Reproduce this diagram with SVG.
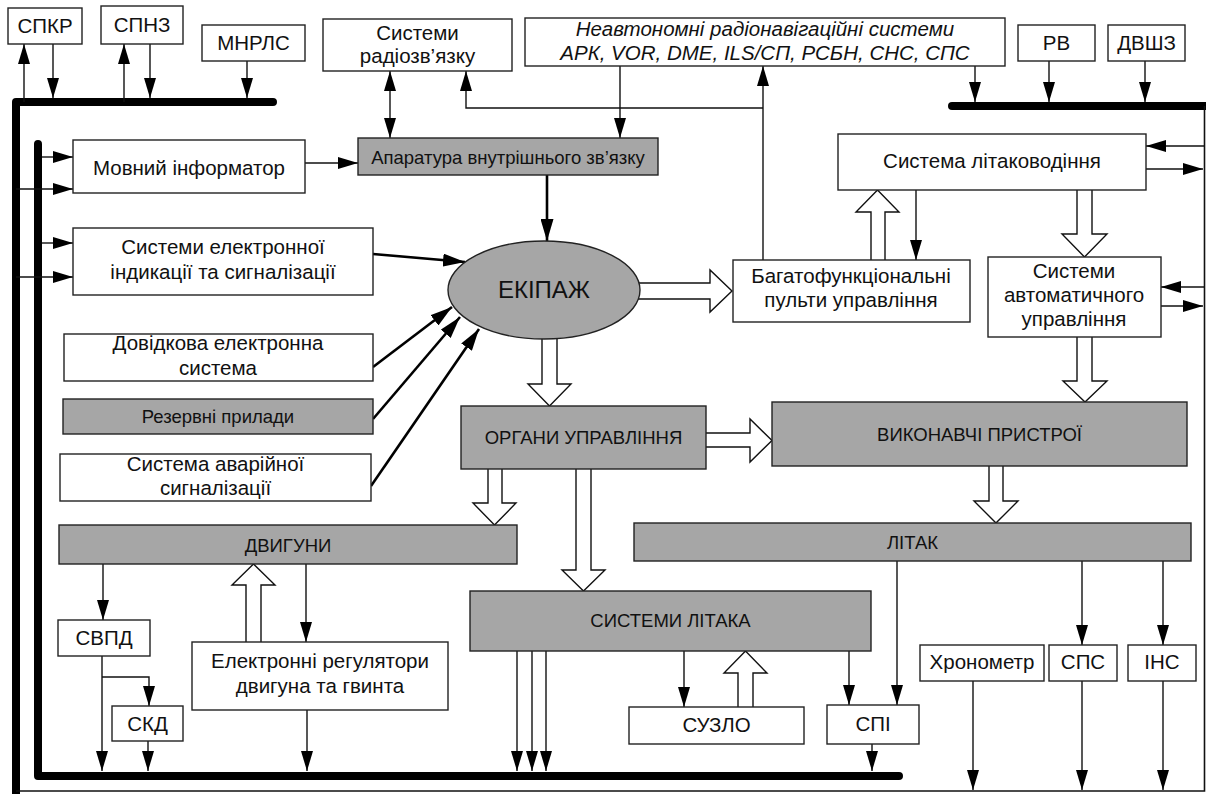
<svg xmlns="http://www.w3.org/2000/svg" width="1206" height="794" viewBox="0 0 1206 794">
<style>
.b{fill:#fff;stroke:#222;stroke-width:1.4}
.g{fill:#a6a6a6;stroke:#222;stroke-width:1.4}
.t{font-family:"Liberation Sans",Arial,sans-serif;font-size:20.5px;fill:#111;text-anchor:middle}
.s{font-size:18.5px}
.i{font-style:italic}
.l{fill:none;stroke:#111;stroke-width:1.4}
.k{fill:none;stroke:#000;stroke-width:2.6}
.bus{fill:none;stroke:#000;stroke-width:8;stroke-linecap:round;stroke-linejoin:round}
.h{fill:#fff;stroke:#111;stroke-width:1.4;stroke-linejoin:miter}
</style>
<defs>
<marker id="a" viewBox="0 0 20 12" refX="20" refY="6" markerWidth="20" markerHeight="12" markerUnits="userSpaceOnUse" orient="auto-start-reverse"><path d="M0,0 L20,6 L0,12 z" fill="#000"/></marker>
<marker id="A" viewBox="0 0 22 13" refX="22" refY="6.5" markerWidth="22" markerHeight="13" markerUnits="userSpaceOnUse" orient="auto"><path d="M0,0 L22,6.5 L0,13 z" fill="#000"/></marker>
</defs>
<rect width="1206" height="794" fill="#fff"/>

<g id="buses">
<path class="bus" d="M273,102 L16,102 L16,800"/>
<path class="bus" d="M38,144 L38,776 L899,776"/>
<path class="bus" d="M952,106 L1210,106"/>
<path fill="none" stroke="#111" stroke-width="1.6" d="M16,791 L1204.5,791 L1204.5,106"/>
</g>

<g id="connectors">
<path class="l" d="M24,102 L24,44" marker-end="url(#a)"/>
<path class="l" d="M53,44 L53,98" marker-end="url(#a)"/>
<path class="l" d="M124,102 L124,44" marker-end="url(#a)"/>
<path class="l" d="M150,44 L150,98" marker-end="url(#a)"/>
<path class="l" d="M247,61 L247,98" marker-end="url(#a)"/>
<path class="l" d="M975,66 L975,102" marker-end="url(#a)"/>
<path class="l" d="M1049,61 L1049,102" marker-end="url(#a)"/>
<path class="l" d="M1145,61 L1145,102" marker-end="url(#a)"/>
<path class="l" d="M42,157 L73,157" marker-end="url(#a)"/>
<path class="l" d="M16,189 L73,189" marker-end="url(#a)"/>
<path class="l" d="M42,243 L73,243" marker-end="url(#a)"/>
<path class="l" d="M16,277 L73,277" marker-end="url(#a)"/>
<path class="l" d="M305,163 L358,163" marker-end="url(#a)"/>
<path class="l" d="M390,71 L390,138" marker-start="url(#a)" marker-end="url(#a)"/>
<path class="l" d="M620,66 L620,138" marker-end="url(#a)"/>
<path class="l" d="M763,260 L763,66" marker-end="url(#a)"/>
<path class="l" d="M763,108 L466,108 L466,71" marker-end="url(#a)"/>
<path class="k" d="M547,175 L547,241" marker-end="url(#A)"/>
<path class="k" d="M373,254 L465,262" marker-end="url(#A)"/>
<path class="k" d="M373,367 L452,307" marker-end="url(#A)"/>
<path class="k" d="M373,419 L460,317" marker-end="url(#A)"/>
<path class="k" d="M371,486 L479,329" marker-end="url(#A)"/>
<path class="l" d="M916,190 L916,260" marker-end="url(#a)"/>
<path class="l" d="M1204,146 L1146,146" marker-end="url(#a)"/>
<path class="l" d="M1146,169 L1203,169" marker-end="url(#a)"/>
<path class="l" d="M1204,287 L1161,287" marker-end="url(#a)"/>
<path class="l" d="M1161,306 L1203,306" marker-end="url(#a)"/>
<path class="l" d="M103,564 L103,620" marker-end="url(#a)"/>
<path class="l" d="M306,564 L306,642" marker-end="url(#a)"/>
<path class="l" d="M102,656 L102,771" marker-end="url(#a)"/>
<path class="l" d="M102,677 L149,677 L149,706" marker-end="url(#a)"/>
<path class="l" d="M148,741 L148,771" marker-end="url(#a)"/>
<path class="l" d="M307,710 L307,771" marker-end="url(#a)"/>
<path class="l" d="M517,651 L517,771" marker-end="url(#a)"/>
<path class="l" d="M532,651 L532,771" marker-end="url(#a)"/>
<path class="l" d="M546,651 L546,771" marker-end="url(#a)"/>
<path class="l" d="M684,651 L684,707" marker-end="url(#a)"/>
<path class="l" d="M849,651 L849,705" marker-end="url(#a)"/>
<path class="l" d="M897,561 L897,705" marker-end="url(#a)"/>
<path class="l" d="M872,744 L872,771" marker-end="url(#a)"/>
<path class="l" d="M1082,561 L1082,645" marker-end="url(#a)"/>
<path class="l" d="M1163,561 L1163,645" marker-end="url(#a)"/>
<path class="l" d="M973,681 L973,790" marker-end="url(#a)"/>
<path class="l" d="M1082,681 L1082,790" marker-end="url(#a)"/>
<path class="l" d="M1163,681 L1163,790" marker-end="url(#a)"/>
<path class="h" d="M542,338 L542,384 L528,384 L549.5,406 L571,384 L557,384 L557,338"/>
<path class="h" d="M638,283 L710,283 L710,270 L732,291 L710,312 L710,299 L638,299"/>
<path class="h" d="M871,260 L871,212 L856,212 L877.5,190 L899,212 L885,212 L885,260"/>
<path class="h" d="M1077,190 L1077,234 L1062,234 L1084.5,257 L1107,234 L1092,234 L1092,190"/>
<path class="h" d="M1077,337 L1077,381 L1063,381 L1085,402 L1107,381 L1092,381 L1092,337"/>
<path class="h" d="M706,433 L750,433 L750,419 L772,440.5 L750,462 L750,447 L706,447"/>
<path class="h" d="M488,469 L488,503 L473,503 L494.5,525 L516,503 L502,503 L502,469"/>
<path class="h" d="M576,469 L576,570 L562,570 L583.5,591 L605,570 L591,570 L591,469"/>
<path class="h" d="M989,466 L989,501 L974,501 L996,523 L1018,501 L1003,501 L1003,466"/>
<path class="h" d="M246,642 L246,585 L232,585 L253.5,564 L275,585 L261,585 L261,642"/>
<path class="h" d="M738,707 L738,673 L724,673 L745.5,651 L767,673 L753,673 L753,707"/>
</g>

<g id="spkr"><rect class="b" x="8" y="8" width="74" height="36"/><text class="t" x="45" y="33">СПКР</text></g>
<g id="spnz"><rect class="b" x="101" y="6" width="82" height="38"/><text class="t" x="142" y="32">СПНЗ</text></g>
<g id="mnrls"><rect class="b" x="202" y="25" width="103" height="36"/><text class="t" x="253.5" y="50">МНРЛС</text></g>
<g id="radio"><rect class="b" x="323" y="19" width="189" height="52"/><text class="t" x="417.5" y="40">Системи</text><text class="t" x="417.5" y="63">радіозв’язку</text></g>
<g id="neavt"><rect class="b" x="525" y="18" width="480" height="48"/><text class="t i" x="765" y="36">Неавтономні радіонавігаційні системи</text><text class="t i" x="765" y="60">АРК, VOR, DME, ILS/СП, РСБН, СНС, СПС</text></g>
<g id="rv"><rect class="b" x="1018" y="25" width="77" height="36"/><text class="t" x="1056.5" y="50">РВ</text></g>
<g id="dvshz"><rect class="b" x="1108" y="25" width="77" height="36"/><text class="t" x="1146.5" y="50">ДВШЗ</text></g>
<g id="movnyi"><rect class="b" x="73" y="140" width="232" height="53"/><text class="t" x="189" y="175">Мовний інформатор</text></g>
<g id="aparatura"><rect class="g" x="358" y="138" width="300" height="37"/><text class="t s" x="508" y="164">Апаратура внутрішнього зв’язку</text></g>
<g id="litakovodinnia"><rect class="b" x="838" y="134" width="308" height="56"/><text class="t" x="992" y="168">Система літаководіння</text></g>
<g id="sei"><rect class="b" x="73" y="228" width="300" height="67"/><text class="t" x="223" y="254">Системи електронної</text><text class="t" x="223" y="279">індикації та сигналізації</text></g>
<g id="ekipazh"><ellipse cx="544" cy="290" rx="96" ry="49" fill="#a6a6a6" stroke="#222" stroke-width="1.4"/><text class="t" style="font-size:24px" x="544" y="298">ЕКІПАЖ</text></g>
<g id="bagato"><rect class="b" x="733" y="260" width="237" height="62"/><text class="t" x="851" y="283">Багатофункціональні</text><text class="t" x="851" y="307">пульти управління</text></g>
<g id="sau"><rect class="b" x="988" y="257" width="173" height="80"/><text class="t" x="1074" y="278">Системи</text><text class="t" x="1074" y="302">автоматичного</text><text class="t" x="1074" y="326">управління</text></g>
<g id="dovidkova"><rect class="b" x="64" y="334" width="309" height="47"/><text class="t" x="218" y="350">Довідкова електронна</text><text class="t" x="218" y="375">система</text></g>
<g id="rezervni"><rect class="g" x="63" y="399" width="310" height="35"/><text class="t s" x="218" y="423">Резервні прилади</text></g>
<g id="avariina"><rect class="b" x="60" y="454" width="311" height="47"/><text class="t" x="215.5" y="471">Система аварійної</text><text class="t" x="215.5" y="495">сигналізації</text></g>
<g id="organy"><rect class="g" x="461" y="406" width="245" height="63"/><text class="t s" x="583.5" y="444">ОРГАНИ УПРАВЛІННЯ</text></g>
<g id="vykonavchi"><rect class="g" x="772" y="402" width="415" height="64"/><text class="t s" x="979.5" y="441">ВИКОНАВЧІ ПРИСТРОЇ</text></g>
<g id="dvyguny"><rect class="g" x="59" y="525" width="458" height="39"/><text class="t s" x="288" y="552">ДВИГУНИ</text></g>
<g id="litak"><rect class="g" x="634" y="523" width="557" height="38"/><text class="t s" x="912.5" y="549">ЛІТАК</text></g>
<g id="systemy-litaka"><rect class="g" x="470" y="591" width="401" height="60"/><text class="t s" x="670.5" y="627">СИСТЕМИ ЛІТАКА</text></g>
<g id="svpd"><rect class="b" x="58" y="620" width="92" height="36"/><text class="t" x="104" y="645">СВПД</text></g>
<g id="skd"><rect class="b" x="112" y="706" width="71" height="35"/><text class="t" x="147.5" y="731">СКД</text></g>
<g id="elektronni"><rect class="b" x="192" y="642" width="256" height="68"/><text class="t" x="320" y="668">Електронні регулятори</text><text class="t" x="320" y="693">двигуна та гвинта</text></g>
<g id="suzlo"><rect class="b" x="629" y="707" width="175" height="37"/><text class="t" x="716.5" y="732">СУЗЛО</text></g>
<g id="spi"><rect class="b" x="827" y="705" width="92" height="39"/><text class="t" x="873" y="731">СПІ</text></g>
<g id="khronometr"><rect class="b" x="920" y="645" width="124" height="36"/><text class="t" x="982" y="669">Хронометр</text></g>
<g id="sps"><rect class="b" x="1049" y="645" width="68" height="36"/><text class="t" x="1083" y="669">СПС</text></g>
<g id="ins"><rect class="b" x="1128" y="645" width="68" height="36"/><text class="t" x="1162" y="669">ІНС</text></g>
</svg>
